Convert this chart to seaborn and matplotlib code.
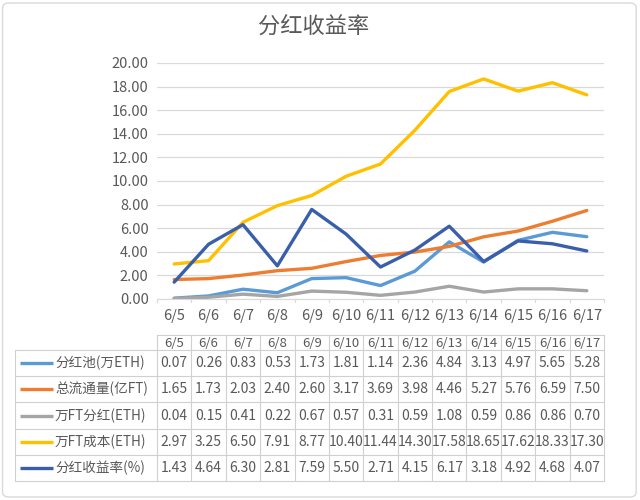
import matplotlib
matplotlib.use("Agg")
import matplotlib.pyplot as plt
import seaborn as sns
import pandas as pd
from matplotlib.patches import FancyBboxPatch

dates = ["6/5", "6/6", "6/7", "6/8", "6/9", "6/10", "6/11", "6/12", "6/13", "6/14", "6/15", "6/16", "6/17"]
pool = [0.07, 0.26, 0.83, 0.53, 1.73, 1.81, 1.14, 2.36, 4.84, 3.13, 4.97, 5.65, 5.28]
supply = [1.65, 1.73, 2.03, 2.40, 2.60, 3.17, 3.69, 3.98, 4.46, 5.27, 5.76, 6.59, 7.50]
div_per = [0.04, 0.15, 0.41, 0.22, 0.67, 0.57, 0.31, 0.59, 1.08, 0.59, 0.86, 0.86, 0.70]
cost_per = [2.97, 3.25, 6.50, 7.91, 8.77, 10.40, 11.44, 14.30, 17.58, 18.65, 17.62, 18.33, 17.30]
yield_rate = [1.43, 4.64, 6.30, 2.81, 7.59, 5.50, 2.71, 4.15, 6.17, 3.18, 4.92, 4.68, 4.07]

names = ["分红池(万ETH)", "总流通量(亿FT)", "万FT分红(ETH)", "万FT成本(ETH)", "分红收益率(%)"]
series = [pool, supply, div_per, cost_per, yield_rate]
colors = ["#5B9BD5", "#ED7D31", "#A5A5A5", "#FFC000", "#3A5FAA"]

sns.set_style("white")
plt.rcParams['font.family'] = ['Noto Sans CJK SC', 'DejaVu Sans']
txt = "#595959"

rows = []
for n, vals in zip(names, series):
    for i, v in enumerate(vals):
        rows.append({"x": i, "v": v, "s": n})
df = pd.DataFrame(rows)

fig = plt.figure(figsize=(6.4, 5.0), dpi=100)
fig.patch.set_facecolor("white")
fig.patches.append(FancyBboxPatch((0.004, 0.006), 0.99, 0.988, boxstyle="round,pad=0,rounding_size=0.01",
                                  transform=fig.transFigure, fill=False, edgecolor="#d9d9d9", lw=1.0))

W, H = 640, 500
left, right = 157, 604
top, bottom = 63, 299
ax = fig.add_axes([left / W, (H - bottom) / H, (right - left) / W, (bottom - top) / H])
sns.lineplot(data=df, x="x", y="v", hue="s", hue_order=names, palette=colors, ax=ax,
             linewidth=2.4, legend=False, sort=False)
ax.set_xlim(-0.5, len(dates) - 0.5)
ax.set_ylim(0, 20)
ax.set_yticks(range(0, 21, 2))
ax.set_yticklabels([f"{v:.2f}" for v in range(0, 21, 2)], color=txt, fontsize=10.5)
ax.set_xticks(range(len(dates)))
ax.set_xticklabels(dates, color=txt, fontsize=10.5)
ax.tick_params(axis="x", length=0, pad=7)
ax.tick_params(axis="y", length=0, pad=6)
ax.grid(axis="y", color="#d9d9d9", lw=0.9)
ax.set_axisbelow(True)
for s in ["top", "right", "left"]:
    ax.spines[s].set_visible(False)
ax.spines["bottom"].set_color("#d9d9d9")
for b in range(len(dates) + 1):
    ax.plot([b - 0.5, b - 0.5], [0, -0.25], color="#d9d9d9", lw=0.9, clip_on=False)
ax.set_xlabel("")
ax.set_ylabel("")

fig.text(0.49, 1 - 27 / H, "分红收益率", ha="center", va="center", fontsize=16, color=txt)

# data table
t_top, t_bot = 335, 481
tab = fig.add_axes([left / W, (H - t_bot) / H, (right - left) / W, (t_bot - t_top) / H])
tab.set_xlim(-0.5, len(dates) - 0.5)
tab.set_ylim(t_bot - t_top, 0)
tab.axis("off")
cw = (right - left) / len(dates)
legx = -0.5 - (left - 15) / cw
hdr = 15
rh = (t_bot - t_top - hdr) / len(names)
lc = "#d0d0d0"
kw = dict(color=lc, lw=0.8, clip_on=False)
tab.plot([-0.5, len(dates) - 0.5], [0, 0], **kw)
for r in range(len(names) + 1):
    y = hdr + r * rh
    tab.plot([legx, len(dates) - 0.5], [y, y], **kw)
for b in range(len(dates) + 1):
    tab.plot([b - 0.5, b - 0.5], [0, t_bot - t_top], **kw)
tab.plot([legx, legx], [hdr, t_bot - t_top], **kw)
for i, d in enumerate(dates):
    tab.text(i, hdr / 2 + 1, d, ha="center", va="center", fontsize=9.5, color=txt, clip_on=False)
for r, (n, vals, c) in enumerate(zip(names, series, colors)):
    yc = hdr + (r + 0.5) * rh
    tab.plot([legx + 5 / cw, legx + 38 / cw], [yc, yc], color=c, lw=2.4, clip_on=False, solid_capstyle="butt")
    tab.text(legx + 40 / cw, yc, n, ha="left", va="center", fontsize=9.8, color=txt, clip_on=False)
    for i, v in enumerate(vals):
        tab.text(i, yc, f"{v:.2f}", ha="center", va="center", fontsize=10, color=txt, clip_on=False)

fig.savefig("out.png", dpi=100)
